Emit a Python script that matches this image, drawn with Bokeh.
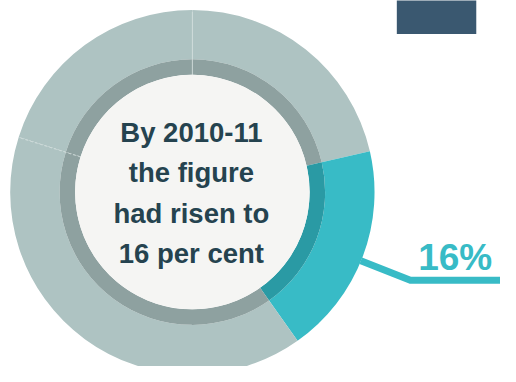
import math
from bokeh.plotting import figure
from bokeh.models import Range1d
from bokeh.core.properties import value
from bokeh.embed import file_html
from bokeh.resources import INLINE

# ---- data ----
segments = ["A", "B", "C", "D"]
shares = [21.4, 18.8, 39.7, 20.1]          # percent of the ring, clockwise from 12 o'clock
highlight = [False, True, False, False]
label_text = "16%"
center_lines = ["By 2010-11", "the figure", "had risen to", "16 per cent"]

# ---- styles ----
OUTER = "#aec3c2"
OUTER_HI = "#38bbc6"
INNER = "#8ea1a0"
INNER_HI = "#2a9aa4"
CENTER_FILL = "#f5f5f3"
TEXT_C = "#25434f"
NAVY = "#3a5870"
W, H = 516, 382  # reference canvas; data y = H - pixel y

cx, cy = 198, H - 200
r_out, r_mid, r_in = 188, 137, 121

p = figure(width=500, height=366, output_backend="svg", toolbar_location=None,
           x_range=Range1d(0, W), y_range=Range1d(0, H),
           min_border=0, background_fill_color="white", border_fill_color="white")
p.axis.visible = False
p.grid.visible = False
p.outline_line_color = None

# angles
starts, ends = [], []
cum = 0.0
for s in shares:
    a0 = 90 - (cum + s) * 3.6
    a1 = 90 - cum * 3.6
    starts.append(math.radians(a0))
    ends.append(math.radians(a1))
    cum += s

outer_cols = [OUTER_HI if h else OUTER for h in highlight]
inner_cols = [INNER_HI if h else INNER for h in highlight]

p.annular_wedge(x=[cx] * len(shares), y=[cy] * len(shares), inner_radius=r_mid, outer_radius=r_out,
                start_angle=starts, end_angle=ends, fill_color=outer_cols, line_color=None)
p.annular_wedge(x=[cx] * len(shares), y=[cy] * len(shares), inner_radius=r_in, outer_radius=r_mid,
                start_angle=starts, end_angle=ends, fill_color=inner_cols, line_color=None)

# faint separators between grey segments
for i in range(len(shares)):
    j = (i - 1) % len(shares)
    if not highlight[i] and not highlight[j]:
        a = ends[i]
        dash = "solid" if abs(math.degrees(a) - 90) < 1 else "3 2"
        p.segment(x0=[cx + r_in * math.cos(a)], y0=[cy + r_in * math.sin(a)],
                  x1=[cx + r_out * math.cos(a)], y1=[cy + r_out * math.sin(a)],
                  line_color="#d3dedd", line_width=1, line_alpha=0.8, line_dash=dash)

# centre disc
p.circle(x=[cx], y=[cy], radius=r_in, fill_color=CENTER_FILL, line_color=None)

# centre text
mids = [138, 180, 222, 264]
p.text(x=[197] * len(center_lines), y=[H - m for m in mids], text=center_lines,
       text_align="center", text_baseline="middle",
       text_font=value("Liberation Sans"), text_font_style="bold",
       text_font_size="27.5px", text_color=TEXT_C)

# leader line from highlighted segment
hi = highlight.index(True)
mid = (starts[hi] + ends[hi]) / 2 - math.radians(1.5)
sx, sy = cx + r_out * math.cos(mid), cy + r_out * math.sin(mid)
p.line(x=[sx, 423, W + 10], y=[sy, H - 292, H - 292], line_color=OUTER_HI, line_width=7,
       line_join="miter")

p.text(x=[431], y=[H - 268], text=[label_text], text_align="left", text_baseline="middle",
       text_font=value("Liberation Sans"), text_font_style="bold",
       text_font_size="37px", text_color=OUTER_HI)

# navy block at top right
p.quad(left=[409], right=[491], top=[H + 5], bottom=[H - 35], fill_color=NAVY, line_color=None)

open("out.html", "w").write(file_html(p, INLINE))
